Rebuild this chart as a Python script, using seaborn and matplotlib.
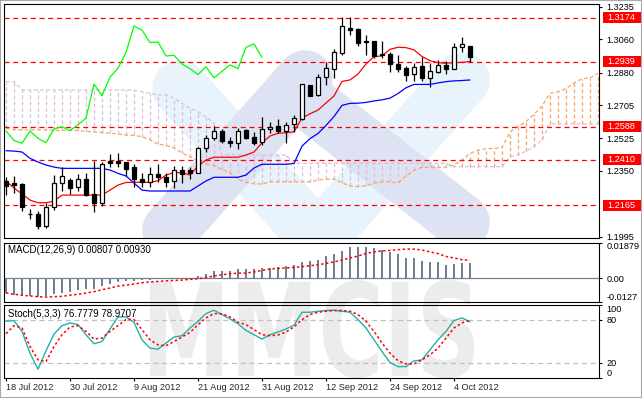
import matplotlib
matplotlib.use("Agg")
import numpy as np
import pandas as pd
import matplotlib.pyplot as plt
import seaborn as sns
from matplotlib.patches import PathPatch, Rectangle
from matplotlib.textpath import TextPath
from matplotlib.font_manager import FontProperties
from matplotlib.transforms import Affine2D, IdentityTransform, blended_transform_factory
from matplotlib.lines import Line2D

# ---------------- data ----------------
opens = [1.2297,1.2283,1.2280,1.2120,1.2118,1.2053,1.2157,1.2283,1.2301,1.2262,
         1.2308,1.2224,1.2179,1.2405,1.2403,1.2398,1.2370,1.2308,1.2288,1.2334,
         1.2320,1.2297,1.2353,1.2353,1.2340,1.2472,1.2526,1.2565,1.2511,1.2499,
         1.2571,1.2534,1.2508,1.2574,1.2592,1.2567,1.2601,1.2631,1.2811,1.2757,
         1.2855,1.2901,1.2987,1.3119,1.3113,1.3049,1.3049,1.2980,1.2980,1.2926,
         1.2903,1.2872,1.2915,1.2849,1.2885,1.2921,1.2901,1.3016,1.3023]
highs = [1.2317,1.2323,1.2283,1.2143,1.2136,1.2177,1.2328,1.2370,1.2310,1.2334,
         1.2337,1.2401,1.2400,1.2441,1.2448,1.2400,1.2387,1.2340,1.2371,1.2387,
         1.2340,1.2377,1.2377,1.2373,1.2479,1.2544,1.2592,1.2574,1.2531,1.2581,
         1.2576,1.2561,1.2639,1.2612,1.2628,1.2615,1.2651,1.2820,1.2813,1.2872,
         1.2939,1.3005,1.3178,1.3178,1.3119,1.3082,1.3052,1.3052,1.2992,1.2975,
         1.2915,1.2933,1.2966,1.2933,1.2948,1.2944,1.3038,1.3070,1.3025]
lows = [1.2220,1.2229,1.2136,1.2089,1.2039,1.2043,1.2140,1.2244,1.2226,1.2244,
        1.2215,1.2129,1.2163,1.2371,1.2370,1.2323,1.2265,1.2265,1.2262,1.2290,
        1.2262,1.2258,1.2287,1.2305,1.2338,1.2454,1.2517,1.2500,1.2477,1.2470,
        1.2520,1.2490,1.2490,1.2556,1.2556,1.2502,1.2561,1.2625,1.2753,1.2753,
        1.2813,1.2849,1.2975,1.3082,1.3023,1.2975,1.2959,1.2957,1.2885,1.2885,
        1.2833,1.2833,1.2836,1.2801,1.2876,1.2872,1.2898,1.2992,1.2937]
closes = [1.2269,1.2276,1.2157,1.2116,1.2053,1.2154,1.2283,1.2323,1.2260,1.2308,
          1.2222,1.2176,1.2386,1.2394,1.2395,1.2362,1.2305,1.2290,1.2334,1.2319,
          1.2288,1.2353,1.2332,1.2340,1.2472,1.2526,1.2565,1.2514,1.2499,1.2565,
          1.2526,1.2502,1.2576,1.2588,1.2567,1.2599,1.2634,1.2818,1.2755,1.2855,
          1.2903,1.2989,1.3131,1.3109,1.3041,1.3045,1.2969,1.2973,1.2926,1.2901,
          1.2869,1.2912,1.2851,1.2887,1.2921,1.2901,1.3016,1.3034,1.2962]
tenkan = [1.2296,1.2258,1.2226,1.2193,1.2179,1.2179,1.2188,1.2220,1.2220,1.2220,
          1.2220,1.2220,1.2220,1.2247,1.2274,1.2288,1.2289,1.2289,1.2289,1.2297,
          1.2328,1.2341,1.2341,1.2328,1.2377,1.2409,1.2424,1.2424,1.2424,1.2424,
          1.2436,1.2452,1.2501,1.2538,1.2553,1.2556,1.2561,1.2635,1.2658,1.2678,
          1.2716,1.2754,1.2832,1.2840,1.2872,1.2926,1.2966,1.2969,1.3005,1.3016,
          1.3014,1.3002,1.2966,1.2944,1.2933,1.2930,1.2933,1.2935,1.2939]
kijun = [1.2459,1.2457,1.2452,1.2418,1.2398,1.2382,1.2371,1.2364,1.2364,1.2364,
         1.2364,1.2364,1.2364,1.2355,1.2337,1.2323,1.2285,1.2247,1.2242,1.2242,
         1.2242,1.2242,1.2242,1.2242,1.2269,1.2296,1.2316,1.2316,1.2316,1.2316,
         1.2328,1.2366,1.2386,1.2386,1.2386,1.2386,1.2390,1.2484,1.2524,1.2552,
         1.2595,1.2643,1.2703,1.2714,1.2715,1.2719,1.2727,1.2733,1.2742,1.2767,
         1.2798,1.2816,1.2816,1.2816,1.2824,1.2831,1.2835,1.2837,1.2840]
span_a = [1.2579,1.2573,1.2571,1.2571,1.2571,1.2571,1.2568,1.2568,1.2568,1.2568,
          1.2563,1.2560,1.2557,1.2553,1.2549,1.2544,1.2541,1.2535,1.2517,1.2495,
          1.2487,1.2474,1.2447,1.2427,1.2404,1.2387,1.2378,1.2358,1.2339,1.2306,
          1.2289,1.2281,1.2280,1.2292,1.2292,1.2292,1.2292,1.2292,1.2292,1.2301,
          1.2306,1.2306,1.2287,1.2268,1.2266,1.2270,1.2285,1.2292,1.2292,1.2285,
          1.2323,1.2353,1.2370,1.2370,1.2370,1.2370,1.2382,1.2409,1.2444,1.2462,
          1.2470,1.2471,1.2476,1.2560,1.2591,1.2615,1.2656,1.2699,1.2768,1.2777,
          1.2794,1.2823,1.2847,1.2851,1.2874]
span_b = [1.2831,1.2831,1.2786,1.2786,1.2786,1.2786,1.2786,1.2786,1.2786,1.2786,
          1.2786,1.2786,1.2786,1.2786,1.2786,1.2786,1.2786,1.2777,1.2768,1.2759,
          1.2759,1.2741,1.2714,1.2687,1.2669,1.2642,1.2607,1.2436,1.2436,1.2436,
          1.2436,1.2436,1.2436,1.2436,1.2436,1.2436,1.2391,1.2391,1.2391,1.2391,
          1.2391,1.2391,1.2391,1.2391,1.2391,1.2391,1.2391,1.2391,1.2391,1.2391,
          1.2391,1.2391,1.2391,1.2391,1.2391,1.2391,1.2373,1.2373,1.2373,1.2373,
          1.2373,1.2373,1.2373,1.2427,1.2436,1.2457,1.2481,1.2517,1.2604,1.2604,
          1.2604,1.2604,1.2604,1.2604,1.2604]
levels = [1.3174, 1.2939, 1.2588, 1.2410, 1.2165]
price_ticks = [1.3235, 1.3060, 1.2880, 1.2705, 1.2525, 1.2350, 1.1995]
macd_main = [-0.0079,-0.0088,-0.0094,-0.0097,-0.0101,-0.0097,-0.0085,-0.0079,-0.0074,-0.0066,
             -0.0058,-0.0057,-0.0041,-0.0030,-0.0023,-0.0018,-0.0018,-0.0013,-0.0009,-0.0005,
             -0.0005,-0.0002,-0.0002,0.0001,0.0008,0.0021,0.0035,0.0035,0.0039,0.0049,
             0.0049,0.0049,0.0054,0.0054,0.0058,0.0061,0.0067,0.0083,0.0088,0.0097,
             0.0114,0.0125,0.0144,0.0164,0.0164,0.0164,0.0159,0.0150,0.0135,0.0129,
             0.0106,0.0106,0.0088,0.0085,0.0085,0.0070,0.0076,0.0079,0.00807]
macd_signal = [-0.0079,-0.0086,-0.0091,-0.0095,-0.0099,-0.0101,-0.0099,-0.0097,-0.0091,-0.0086,
               -0.0080,-0.0072,-0.0062,-0.0053,-0.0043,-0.0038,-0.0032,-0.0025,-0.0021,-0.0018,
               -0.0015,-0.0013,-0.0011,-0.0007,-0.0004,0.0003,0.0010,0.0017,0.0022,0.0026,
               0.0026,0.0032,0.0040,0.0048,0.0051,0.0053,0.0056,0.0060,0.0065,0.0070,
               0.0077,0.0085,0.0095,0.0106,0.0116,0.0130,0.0138,0.0143,0.0146,0.0150,
               0.0153,0.0153,0.0148,0.0138,0.0129,0.0114,0.0106,0.0097,0.00930]
macd_ticks = [0.01879, 0.0, -0.0127]
macd_tick_labels = ['0.01879', '0.00', '-0.0127']
stoch_k = [77.5,78.5,63.6,33.6,11.4,36.8,60.0,71.5,75.3,72.9,
           59.0,46.5,49.7,66.9,83.6,83.6,76.1,52.0,40.5,39.1,
           47.5,55.8,57.6,68.3,77.5,88.2,92.8,86.8,80.8,74.0,
           65.0,59.0,53.0,59.0,62.8,67.0,72.0,90.0,90.0,91.4,
           92.4,92.8,91.4,90.0,79.9,68.3,52.0,35.8,20.6,15.0,
           15.0,22.9,24.3,38.2,52.0,63.6,78.5,82.2,76.7779]
stoch_d = [60.4,71.5,68.3,42.8,24.3,22.0,42.8,59.0,69.7,71.5,
           63.6,53.0,54.4,63.6,71.5,79.9,79.9,66.0,52.0,45.0,
           43.8,49.7,55.8,62.2,72.9,82.2,88.2,87.8,83.6,76.1,
           72.9,66.0,59.0,57.6,58.6,62.8,69.7,79.9,86.8,90.0,
           91.4,92.4,92.4,91.4,86.8,77.5,63.6,47.5,33.6,23.3,
           18.8,18.8,24.3,31.3,40.5,54.4,68.3,75.3,78.9707]
stoch_ticks = [100, 80, 20, 0]
date_labels = ['18 Jul 2012', '30 Jul 2012', '9 Aug 2012', '21 Aug 2012',
               '31 Aug 2012', '12 Sep 2012', '24 Sep 2012', '4 Oct 2012']
date_bar_index = [0, 8, 16, 24, 32, 40, 48, 56]
chikou_shift = 26

# ---------------- style ----------------
sns.set_theme(style="white")
plt.rcParams['font.family'] = ['Liberation Sans', 'DejaVu Sans']
FS = 6.6

W, H = 642, 398
fig = plt.figure(figsize=(W / 100, H / 100), dpi=100, facecolor='white')


def px_rect(x0, y0, x1, y1):
    return [x0 / W, 1 - y1 / H, (x1 - x0) / W, (y1 - y0) / H]


ax = fig.add_axes(px_rect(4, 4, 599, 238))
axm = fig.add_axes(px_rect(4, 242.5, 599, 302))
axs = fig.add_axes(px_rect(4, 305, 599, 377.5))

for a in (ax, axm, axs):
    a.set_facecolor('none')
    for s in a.spines.values():
        s.set_color('black')
        s.set_linewidth(0.8)
    a.grid(False)
    a.yaxis.tick_right()
    a.tick_params(axis='y', which='both', right=True, left=False, length=2.2,
                  width=0.8, color='black', direction='out', labelsize=FS,
                  pad=3.0, labelcolor='black')
    a.tick_params(axis='x', bottom=False, labelbottom=False, top=False)

# ---------------- watermark ----------------
fp = FontProperties(family='DejaVu Sans', weight='bold')
tp = TextPath((0, 0), 'MMCIS', size=100, prop=fp)
ext = tp.get_extents()
bx0, by0, bx1, by1 = 150, H - 378, 474, H - 280
tr = (Affine2D().translate(-ext.x0, -ext.y0)
      .scale((bx1 - bx0) / ext.width, (by1 - by0) / ext.height)
      .translate(bx0, by0))
fig.add_artist(PathPatch(tp, transform=tr, fc='#ECECEC', ec='none', zorder=-5))

strokes = [((180, 88), (305, 225), '#E8F3FB'),
           ((462, 80), (325, 232), '#E8F3FB'),
           ((305, 78), (170, 230), '#DDE3F2'),
           ((300, 95), (462, 222), '#DDE3F2')]
for (x0, y0), (x1, y1), col in strokes:
    ln = Line2D([x0, x1], [H - y0, H - y1], transform=IdentityTransform(),
                color=col, lw=40, solid_capstyle='round', zorder=0.2)
    ax.add_line(ln)

# ---------------- main panel ----------------
idx = np.arange(len(closes))
o = np.array(opens); c = np.array(closes); h = np.array(highs); l = np.array(lows)

# Ichimoku cloud
jj = np.arange(len(span_a))
sa = np.array(span_a); sb = np.array(span_b)
hatch_cols = np.where(sa >= sb, '#F4A460', '#D8BFD8')
ax.vlines(jj, np.minimum(sa, sb), np.maximum(sa, sb), colors=hatch_cols,
          lw=0.9, linestyles=(0, (3, 2)), zorder=1)
sns.lineplot(x=jj, y=sa, ax=ax, color='#F4A460', lw=0.9, linestyle=(0, (3, 2)), zorder=1.1)
sns.lineplot(x=jj, y=sb, ax=ax, color='#D8BFD8', lw=0.9, linestyle=(0, (3, 2)), zorder=1.1)

# levels
trans = blended_transform_factory(ax.transAxes, ax.transData)
for lv in levels:
    ax.axhline(lv, color='#FF0000', lw=0.9, ls=(0, (4, 3)), zorder=1.5)

# Tenkan / Kijun / Chikou
sns.lineplot(x=idx, y=tenkan, ax=ax, color='#FF0000', lw=0.9, zorder=2)
sns.lineplot(x=idx, y=kijun, ax=ax, color='#0000FF', lw=0.9, zorder=2)
chik = closes[chikou_shift:]
sns.lineplot(x=np.arange(len(chik)), y=chik, ax=ax, color='#00FF00', lw=0.9, zorder=2)

# candles
ax.vlines(idx, l, h, color='black', lw=0.9, zorder=3)
body_lo = np.minimum(o, c)
body_h = np.maximum(np.abs(c - o), 0.0004)
body_cols = np.where(c >= o, 'white', 'black')
ax.bar(idx, body_h, bottom=body_lo, width=0.62, color=body_cols,
       edgecolor='black', linewidth=0.9, zorder=4)

ax.set_xlim(-0.25, 74.125)
ax.set_ylim(1.1989, 1.3249)
ax.set_yticks(price_ticks)
ax.set_yticklabels([f'{v:.4f}' for v in price_ticks])
ax.set_xlabel(''); ax.set_ylabel('')

box_h = 11 / 1856
for lv in levels:
    ax.add_patch(Rectangle((1 + 4 / 595, lv - box_h / 2), 43 / 595, box_h,
                           transform=trans, fc='#FF0000', ec='none',
                           clip_on=False, zorder=10))
    ax.text(1 + 8 / 595, lv, f'{lv:.4f}', transform=trans, color='white',
            fontsize=FS, va='center', ha='left', clip_on=False, zorder=11)

# ---------------- MACD ----------------
axm.bar(idx, macd_main, width=0.27, color='#708090', linewidth=0, zorder=2)
axm.axhline(0, color='#708090', lw=0.9, zorder=2)
sns.lineplot(x=idx, y=macd_signal, ax=axm, color='#FF0000', lw=1.1,
             linestyle=(0, (1.6, 1.6)), zorder=3)
axm.set_xlim(-0.25, 74.125)
axm.set_ylim(-0.0127, 0.01879)
axm.set_yticks(macd_ticks)
axm.set_yticklabels(macd_tick_labels)
labs = axm.get_yticklabels()
labs[0].set_va('top'); labs[2].set_va('bottom')
axm.set_xlabel(''); axm.set_ylabel('')
axm.text(4 / 595, 0.87, f'MACD(12,26,9) {macd_main[-1]:.5f} {macd_signal[-1]:.5f}',
         transform=axm.transAxes, fontsize=7.0, va='center', ha='left', color='black')

# ---------------- Stochastic ----------------
for lvl in (80, 20):
    axs.axhline(lvl, color='#C0C0C0', lw=0.9, ls=(0, (4, 3)), zorder=1)
sns.lineplot(x=idx, y=stoch_k, ax=axs, color='#20B2AA', lw=1.0, zorder=3)
sns.lineplot(x=idx, y=stoch_d, ax=axs, color='#FF0000', lw=1.1,
             linestyle=(0, (1.6, 1.6)), zorder=3)
axs.set_xlim(-0.25, 74.125)
axs.set_ylim(0, 100)
axs.set_yticks(stoch_ticks)
axs.set_yticklabels([str(v) for v in stoch_ticks])
labs = axs.get_yticklabels()
labs[0].set_va('top'); labs[3].set_va('bottom')
axs.set_xticks(date_bar_index)
axs.set_xticklabels(date_labels, ha='left')
axs.tick_params(axis='x', bottom=True, labelbottom=True, length=2.2, width=0.8,
                direction='out', color='black', labelsize=FS, pad=2)
axs.set_xlabel(''); axs.set_ylabel('')
axs.text(4 / 595, 0.87, f'Stoch(5,3,3) {stoch_k[-1]:.4f} {stoch_d[-1]:.4f}',
         transform=axs.transAxes, fontsize=7.0, va='center', ha='left', color='black')

fig.add_artist(Rectangle((0, 0), 1, 1, transform=fig.transFigure, fill=False,
                         ec='#A8A8A8', lw=1.5, zorder=20))

fig.savefig('out.png', dpi=100, facecolor='white')
